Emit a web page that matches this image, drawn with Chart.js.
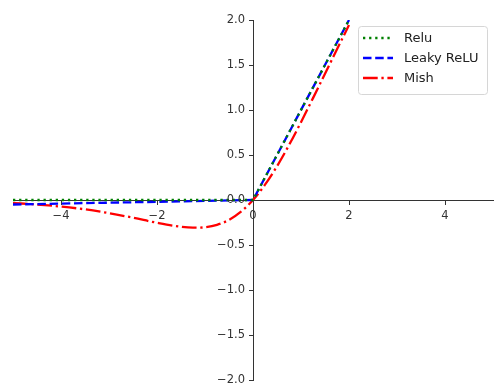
<!DOCTYPE html>
<html>
<head>
<meta charset="utf-8">
<script src="https://cdn.jsdelivr.net/npm/chart.js@4/dist/chart.umd.min.js"></script>
<style>
  html, body { margin: 0; padding: 0; background: #fff; }
  #wrap { width: 494px; height: 388px; }
</style>
</head>
<body>
<div id="wrap"><canvas id="chart" width="494" height="388"></canvas></div>
<script>
// datos
const reluX = [-5, 0, 2];
const reluY = [0, 0, 2];

const leakyX = [-5, 0, 2];
const leakyY = [-0.05, 0, 2];

const mishX = [-5, -4.5, -4, -3.5, -3, -2.5, -2, -1.5, -1.25, -1, -0.75, -0.5, -0.25, 0, 0.25, 0.5, 0.75, 1, 1.25, 1.5, 1.75, 2];
const mishY = [-0.034, -0.050, -0.073, -0.104, -0.146, -0.197, -0.253, -0.298, -0.308, -0.303, -0.276, -0.221, -0.130, 0, 0.170, 0.375, 0.610, 0.865, 1.132, 1.403, 1.674, 1.944];

const seriesNames = ['Relu', 'Leaky ReLU', 'Mish'];
const xTicks = [-4, -2, 0, 2, 4];
const yTicks = [-2, -1.5, -1, -0.5, 0, 0.5, 1, 1.5, 2];

const FONT = 'DejaVu Sans';
const LW = 2.3;
const axisColor = '#333';

function toPoints(xs, ys) {
    return xs.map((x, i) => ({ x: x, y: ys[i] }));
}

function minus(s) {
    return String(s).replace('-', '\u2212');
}

const datasets = [
    {
        label: seriesNames[0],
        data: toPoints(reluX, reluY),
        borderColor: '#008000',
        borderWidth: LW,
        borderDash: [2.3, 3.8],
        borderCapStyle: 'butt',
        tension: 0
    },
    {
        label: seriesNames[1],
        data: toPoints(leakyX, leakyY),
        borderColor: '#0000ff',
        borderWidth: LW,
        borderDash: [8.5, 3.7],
        borderCapStyle: 'butt',
        tension: 0
    },
    {
        label: seriesNames[2],
        data: toPoints(mishX, mishY),
        borderColor: '#ff0000',
        borderWidth: LW,
        borderDash: [14.7, 3.7, 2.3, 3.7],
        borderCapStyle: 'butt',
        cubicInterpolationMode: 'monotone'
    }
];

// etiquetas del eje y a la izquierda del eje (estilo matplotlib)
const yLabels = {
    id: 'yLabels',
    afterDraw(chart) {
        const ctx = chart.ctx;
        const xs = chart.scales.x;
        const ys = chart.scales.y;
        const x0 = xs.getPixelForValue(0) - 4 - 4;
        ctx.save();
        ctx.font = '11.5px "' + FONT + '"';
        ctx.fillStyle = '#333';
        ctx.textAlign = 'right';
        ctx.textBaseline = 'middle';
        yTicks.forEach(v => {
            ctx.fillText(minus(v.toFixed(1)), x0, ys.getPixelForValue(v));
        });
        ctx.restore();
    }
};

// leyenda estilo matplotlib
const legendBox = {
    id: 'legendBox',
    afterDatasetsDraw(chart) {
        const ctx = chart.ctx;
        const x0 = 358, y0 = 26, w = 129, h = 68;
        ctx.save();
        ctx.beginPath();
        ctx.roundRect(x0 + 0.5, y0 + 0.5, w, h, 3);
        ctx.fillStyle = 'rgba(255,255,255,0.8)';
        ctx.fill();
        ctx.strokeStyle = '#d6d6d6';
        ctx.lineWidth = 1;
        ctx.stroke();

        ctx.font = '13px "' + FONT + '"';
        ctx.textBaseline = 'middle';
        ctx.textAlign = 'left';
        datasets.forEach((ds, i) => {
            const y = y0 + 12 + i * 20;
            ctx.beginPath();
            ctx.setLineDash(ds.borderDash);
            ctx.lineWidth = ds.borderWidth;
            ctx.strokeStyle = ds.borderColor;
            ctx.moveTo(x0 + 5, y);
            ctx.lineTo(x0 + 35, y);
            ctx.stroke();
            ctx.setLineDash([]);
            ctx.fillStyle = '#222';
            ctx.fillText(ds.label, x0 + 46, y + 1);
        });
        ctx.restore();
    }
};

new Chart(document.getElementById('chart').getContext('2d'), {
    type: 'line',
    data: { datasets: datasets },
    options: {
        responsive: false,
        animation: false,
        layout: { padding: { left: 13, right: 1, top: 20, bottom: 8 } },
        elements: { point: { radius: 0 } },
        plugins: {
            legend: { display: false },
            tooltip: { enabled: false }
        },
        scales: {
            x: {
                type: 'linear',
                min: -5,
                max: 5,
                position: { y: 0 },
                afterFit(scale) { scale.height = 0; },
                afterBuildTicks(scale) { scale.ticks = xTicks.map(v => ({ value: v })); },
                border: { display: true, color: axisColor, width: 1 },
                grid: { drawOnChartArea: false, drawTicks: true, tickLength: 4, color: axisColor },
                ticks: {
                    color: '#333',
                    padding: 5,
                    font: { family: FONT, size: 11.5 },
                    maxRotation: 0,
                    autoSkip: false,
                    callback: v => minus(v)
                }
            },
            y: {
                type: 'linear',
                min: -2,
                max: 2,
                position: { x: 0 },
                afterFit(scale) { scale.width = 0; },
                afterBuildTicks(scale) { scale.ticks = yTicks.map(v => ({ value: v })); },
                border: { display: true, color: axisColor, width: 1 },
                grid: { drawOnChartArea: false, drawTicks: true, tickLength: 4, color: axisColor },
                ticks: { display: false }
            }
        }
    },
    plugins: [legendBox, yLabels]
});
</script>
</body>
</html>
